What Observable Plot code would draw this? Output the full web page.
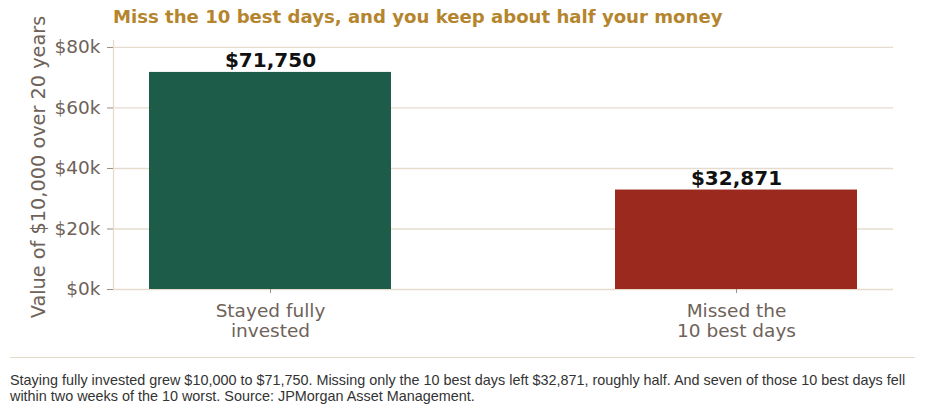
<!DOCTYPE html>
<html>
<head>
<meta charset="utf-8">
<script src="https://cdn.jsdelivr.net/npm/d3@7"></script>
<script src="https://cdn.jsdelivr.net/npm/@observablehq/plot@0.6"></script>
<style>
  html, body { margin: 0; padding: 0; background: #fff; }
  #wrap { position: relative; width: 937px; height: 410px; font-family: "DejaVu Sans", sans-serif; }
  #title { position: absolute; left: 113px; top: 6px; font-size: 18.1px; font-weight: bold; color: #b5852e; white-space: nowrap; }
  #chart { position: absolute; left: 0; top: 0; }
  #sep { position: absolute; left: 10px; top: 357px; width: 905px; height: 0; border-top: 1.5px solid #e3d9c9; }
  #caption { position: absolute; left: 10px; top: 372px; width: 912px; font-family: "Liberation Sans", Arial, sans-serif; font-size: 14.4px; line-height: 16px; color: #333; }
</style>
</head>
<body>
<div id="wrap">
  <div id="chart"></div>
  <div id="title">Miss the 10 best days, and you keep about half your money</div>
  <div id="sep"></div>
  <div id="caption">Staying fully invested grew $10,000 to $71,750. Missing only the 10 best days left $32,871, roughly half. And seven of those 10 best days fell within two weeks of the 10 worst. Source: JPMorgan Asset Management.</div>
</div>
<script>
const categories = ["Stayed fully\ninvested", "Missed the\n10 best days"];
const values = [71750, 32871];
const barColors = ["#1e5c4a", "#9c291d"];
const yTicks = [0, 20000, 40000, 60000, 80000];
const yLabel = ["Value of $10,000 over 20 years"];

const data = categories.map((c, i) => ({category: c, value: values[i], color: barColors[i]}));
const tickColor = "#6e6259";
const gridColor = "#e6dccd";

const chart = Plot.plot({
  width: 937,
  height: 350,
  marginTop: 40,
  marginBottom: 61,
  marginLeft: 113,
  marginRight: 44,
  style: {fontFamily: "DejaVu Sans, sans-serif", background: "transparent", overflow: "visible"},
  x: {domain: categories, paddingInner: 0.48, paddingOuter: 0.076},
  y: {domain: [0, 82300]},
  marks: [
    Plot.gridY(yTicks, {stroke: gridColor, strokeOpacity: 1, strokeWidth: 1.3}),
    Plot.frame({anchor: "left", stroke: gridColor, strokeWidth: 1.3}),
    Plot.barY(data, {x: "category", y: "value", fill: "color"}),
    Plot.text(data, {x: "category", y: "value", text: d => "$" + d3.format(",")(d.value), lineAnchor: "bottom", dy: -5, fontSize: 20, fontWeight: "bold", fill: "#111"}),
    Plot.axisY(yTicks, {tickFormat: d => "$" + (d / 1000) + "k", tickSize: 6, tickPadding: 7, fontSize: 18.5, color: tickColor, stroke: "#9a8f86", label: null}),
    Plot.axisX({tickSize: 4, tickPadding: 9, fontSize: 18.5, color: tickColor, stroke: "#9a8f86", label: null, lineHeight: 1.1}),
    Plot.text(yLabel, {frameAnchor: "left", rotate: -90, dx: -75, dy: 2, textAnchor: "middle", text: d => d, fontSize: 19.3, fill: tickColor})
  ]
});
document.getElementById("chart").appendChild(chart);
</script>
</body>
</html>
